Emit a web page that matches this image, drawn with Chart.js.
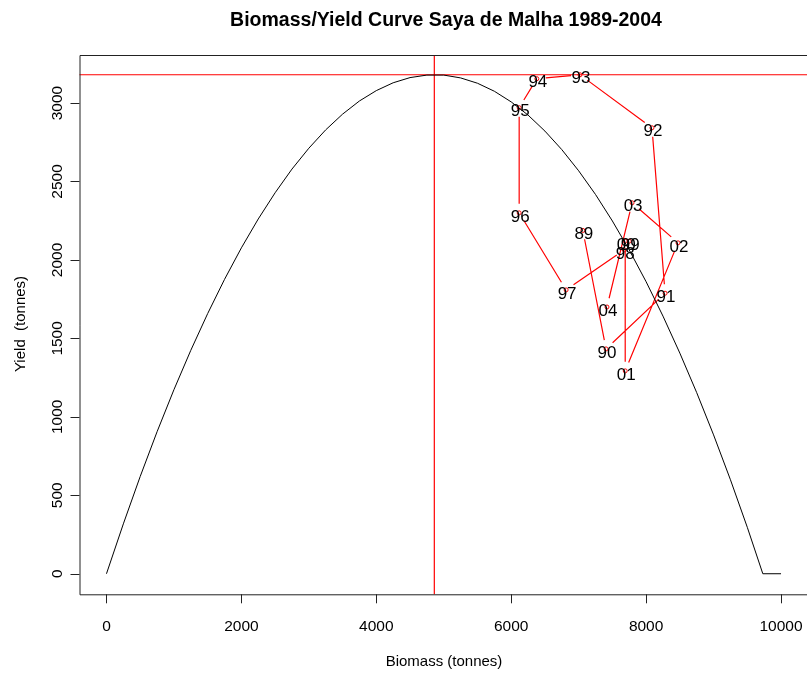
<!DOCTYPE html>
<html>
<head>
<meta charset="utf-8">
<script src="https://cdn.jsdelivr.net/npm/chart.js@4/dist/chart.umd.min.js"></script>
<style>
  html, body { margin: 0; padding: 0; background: #fff; overflow: hidden; }
  #wrap { width: 807px; height: 675px; }
</style>
</head>
<body>
<div id="wrap"><canvas id="yieldChart" width="807" height="675"></canvas></div>
<script>
// yield curve
const curveBiomass = [0, 250, 500, 750, 1000, 1250, 1500, 1750, 2000, 2250, 2500, 2750, 3000, 3250, 3500, 3750,
    4000, 4250, 4500, 4750, 5000, 5250, 5500, 5750, 6000, 6250, 6500, 6750, 7000, 7250, 7500, 7750,
    8000, 8250, 8500, 8750, 9000, 9250, 9500, 9730, 10000];
const curveYield = [0, 318, 620, 905, 1173, 1424, 1658, 1876, 2077, 2261, 2428, 2579, 2712, 2829, 2929, 3013,
    3079, 3129, 3162, 3178, 3178, 3160, 3126, 3075, 3007, 2923, 2821, 2703, 2568, 2417, 2248, 2063,
    1861, 1642, 1406, 1154, 885, 599, 296, 0, 0];

// yearly observations
const years = ['89', '90', '91', '92', '93', '94', '95', '96', '97', '98', '99', '00', '01', '02', '03', '04'];
const obsBiomass = [7062, 7406, 8281, 8087, 7020, 6380, 6118, 6118, 6814, 7675, 7750, 7690, 7690, 8473, 7792, 7420];
const obsYield = [2188, 1433, 1788, 2842, 3180, 3155, 2970, 2300, 1809, 2064, 2120, 2120, 1293, 2109, 2364, 1700];

// reference lines (MSY and Bmsy)
const msy = 3180;
const bmsy = 4860;

const xTicks = [0, 2000, 4000, 6000, 8000, 10000];
const yTicks = [0, 500, 1000, 1500, 2000, 2500, 3000];

const FONT = '"Liberation Sans", Arial, sans-serif';

const curveData = curveBiomass.map((b, i) => ({ x: b, y: curveYield[i] }));
const obsData = obsBiomass.map((b, i) => ({ x: b, y: obsYield[i] }));

// R style frame, ticks, labels and the year path with gaps round the points
const rStylePlugin = {
    id: 'rStyle',
    beforeDatasetsDraw(chart) {
        const { ctx, chartArea: a, scales: { x, y } } = chart;
        ctx.save();
        ctx.strokeStyle = '#ff0000';
        ctx.lineWidth = 1.2;
        ctx.beginPath();
        const hy = y.getPixelForValue(msy);
        ctx.moveTo(a.left, hy);
        ctx.lineTo(a.right, hy);
        const vx = x.getPixelForValue(bmsy);
        ctx.moveTo(vx, a.top);
        ctx.lineTo(vx, a.bottom);
        ctx.stroke();

        // path between years, stopping short of each point
        const gap = 9;
        ctx.beginPath();
        for (let i = 0; i < obsData.length - 1; i++) {
            const x1 = x.getPixelForValue(obsData[i].x), y1 = y.getPixelForValue(obsData[i].y);
            const x2 = x.getPixelForValue(obsData[i + 1].x), y2 = y.getPixelForValue(obsData[i + 1].y);
            const len = Math.hypot(x2 - x1, y2 - y1);
            if (len <= gap * 2) continue;
            const ux = (x2 - x1) / len, uy = (y2 - y1) / len;
            ctx.moveTo(x1 + ux * gap, y1 + uy * gap);
            ctx.lineTo(x2 - ux * gap, y2 - uy * gap);
        }
        ctx.stroke();
        ctx.restore();
    },
    afterDatasetsDraw(chart) {
        const { ctx, chartArea: a, scales: { x, y } } = chart;
        ctx.save();

        // year labels
        ctx.fillStyle = '#000';
        ctx.font = '17px ' + FONT;
        ctx.textAlign = 'center';
        ctx.textBaseline = 'middle';
        obsData.forEach((p, i) => {
            ctx.fillText(years[i], x.getPixelForValue(p.x) + 1, y.getPixelForValue(p.y) + 4);
        });

        // frame (right side runs off the canvas)
        ctx.strokeStyle = '#222';
        ctx.lineWidth = 1;
        ctx.beginPath();
        ctx.moveTo(a.right + 2, a.top + 0.5);
        ctx.lineTo(a.left + 0.5, a.top + 0.5);
        ctx.lineTo(a.left + 0.5, a.bottom + 0.5);
        ctx.lineTo(a.right + 2, a.bottom + 0.5);
        ctx.stroke();

        // ticks
        ctx.font = '15.5px ' + FONT;
        ctx.beginPath();
        xTicks.forEach(t => {
            const px = Math.round(x.getPixelForValue(t)) + 0.5;
            ctx.moveTo(px, a.bottom);
            ctx.lineTo(px, a.bottom + 9);
        });
        yTicks.forEach(t => {
            const py = Math.round(y.getPixelForValue(t)) + 0.5;
            ctx.moveTo(a.left, py);
            ctx.lineTo(a.left - 9, py);
        });
        ctx.stroke();
        xTicks.forEach(t => {
            ctx.fillText(String(t), x.getPixelForValue(t), a.bottom + 32);
        });
        yTicks.forEach(t => {
            ctx.save();
            ctx.translate(a.left - 22, y.getPixelForValue(t));
            ctx.rotate(-Math.PI / 2);
            ctx.fillText(String(t), 0, 0);
            ctx.restore();
        });

        // axis titles
        ctx.font = '15px ' + FONT;
        ctx.fillText('Biomass (tonnes)', 444, 662);
        ctx.save();
        ctx.translate(21, 324);
        ctx.rotate(-Math.PI / 2);
        ctx.fillText('Yield  (tonnes)', 0, 0);
        ctx.restore();

        // main title
        ctx.font = 'bold 19.5px ' + FONT;
        ctx.fillText('Biomass/Yield Curve Saya de Malha 1989-2004', 446, 21);
        ctx.restore();
    }
};

new Chart(document.getElementById('yieldChart'), {
    type: 'scatter',
    data: {
        datasets: [
            {
                label: 'Yield curve',
                data: curveData,
                showLine: true,
                borderColor: '#000000',
                borderWidth: 1,
                pointRadius: 0,
                tension: 0
            },
            {
                label: 'Observed',
                data: obsData,
                showLine: false,
                pointStyle: 'circle',
                pointRadius: 2,
                borderColor: '#ff0000',
                backgroundColor: 'rgba(0,0,0,0)',
                borderWidth: 1
            }
        ]
    },
    options: {
        responsive: false,
        animation: false,
        events: [],
        layout: { autoPadding: false, padding: { left: 79.5, top: 55, right: 0, bottom: 80.7 } },
        plugins: {
            legend: { display: false },
            tooltip: { enabled: false },
            title: { display: false }
        },
        scales: {
            x: { type: 'linear', min: -400, max: 10385, display: false },
            y: { type: 'linear', min: -131, max: 3306, display: false }
        }
    },
    plugins: [rStylePlugin]
});
</script>
</body>
</html>
